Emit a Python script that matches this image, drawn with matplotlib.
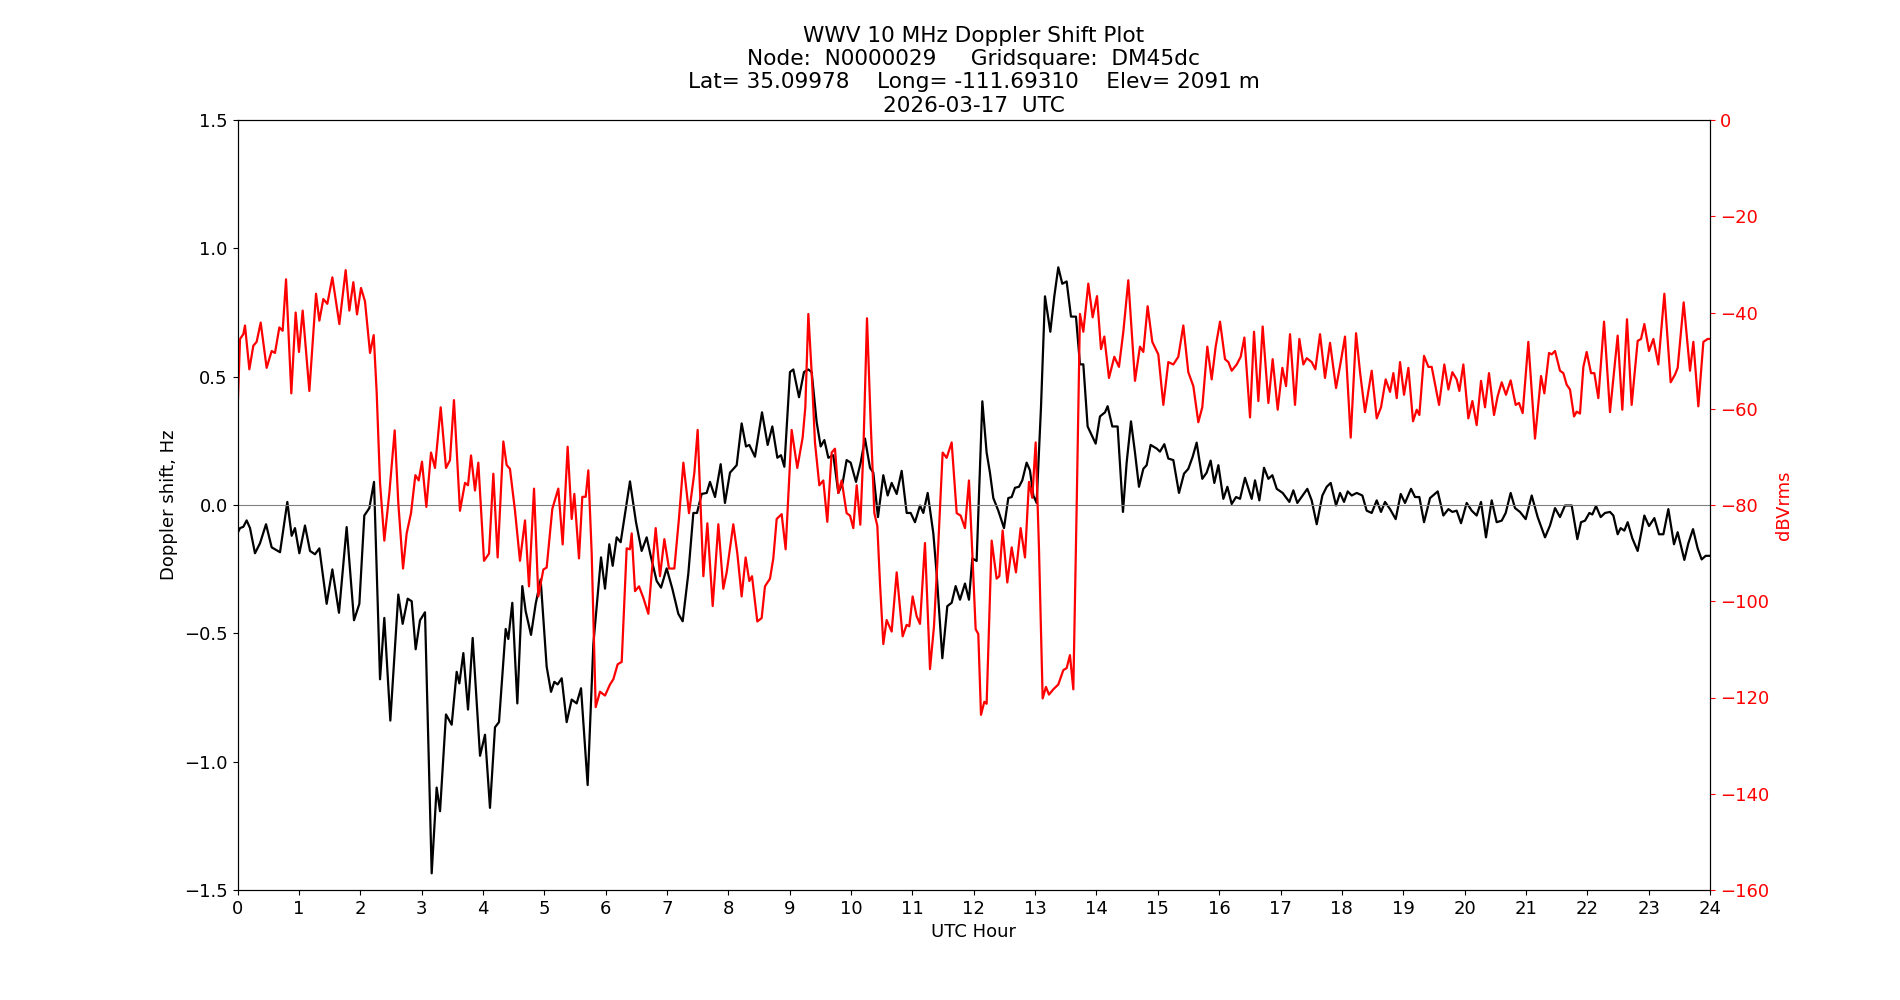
import matplotlib
matplotlib.use("Agg")
import matplotlib.pyplot as plt

plt.rcParams['font.size'] = 13

# Doppler shift (Hz) vs UTC hour
doppler_hours = [
    0.0, 0.041, 0.095, 0.149, 0.204, 0.285, 0.367, 0.465, 0.557, 0.693,
    0.812, 0.883, 0.937, 1.008, 1.100, 1.182, 1.263, 1.334, 1.453, 1.546,
    1.654, 1.779, 1.899, 1.986, 2.067, 2.149, 2.225, 2.323, 2.393, 2.491,
    2.621, 2.692, 2.774, 2.839, 2.904, 2.975, 3.056, 3.165, 3.246, 3.301,
    3.398, 3.491, 3.572, 3.616, 3.681, 3.757, 3.833, 3.953, 4.034, 4.115,
    4.197, 4.262, 4.371, 4.414, 4.479, 4.561, 4.642, 4.697, 4.784, 4.860,
    4.941, 5.039, 5.110, 5.164, 5.218, 5.284, 5.365, 5.447, 5.528, 5.599,
    5.707, 5.800, 5.925, 5.990, 6.060, 6.115, 6.180, 6.245, 6.397, 6.495,
    6.587, 6.669, 6.740, 6.832, 6.903, 6.995, 7.087, 7.185, 7.256, 7.348,
    7.430, 7.489, 7.565, 7.647, 7.701, 7.783, 7.875, 7.945, 8.027, 8.136,
    8.217, 8.288, 8.342, 8.434, 8.549, 8.641, 8.717, 8.799, 8.858, 8.913,
    9.005, 9.059, 9.152, 9.233, 9.304, 9.358, 9.440, 9.505, 9.565, 9.630,
    9.711, 9.793, 9.863, 9.928, 9.994, 10.081, 10.157, 10.227, 10.309, 10.363,
    10.439, 10.526, 10.597, 10.662, 10.744, 10.825, 10.907, 10.972, 11.042, 11.124,
    11.178, 11.249, 11.341, 11.395, 11.488, 11.569, 11.640, 11.705, 11.776, 11.857,
    11.922, 11.977, 12.047, 12.140, 12.210, 12.264, 12.319, 12.400, 12.493, 12.563,
    12.618, 12.672, 12.737, 12.791, 12.862, 12.916, 12.971, 13.025, 13.096, 13.161,
    13.248, 13.313, 13.378, 13.443, 13.514, 13.585, 13.666, 13.731, 13.786, 13.856,
    13.921, 13.987, 14.057, 14.139, 14.182, 14.258, 14.345, 14.432, 14.492, 14.563,
    14.628, 14.693, 14.764, 14.818, 14.883, 14.981, 15.035, 15.106, 15.171, 15.253,
    15.345, 15.427, 15.497, 15.568, 15.633, 15.725, 15.796, 15.861, 15.921, 15.987,
    16.068, 16.134, 16.204, 16.275, 16.340, 16.421, 16.530, 16.584, 16.655, 16.731,
    16.802, 16.867, 16.938, 17.035, 17.144, 17.209, 17.274, 17.361, 17.437, 17.508,
    17.590, 17.682, 17.753, 17.818, 17.905, 17.970, 18.035, 18.095, 18.160, 18.242,
    18.334, 18.404, 18.486, 18.568, 18.638, 18.703, 18.785, 18.877, 18.959, 19.029,
    19.127, 19.192, 19.263, 19.339, 19.437, 19.562, 19.654, 19.736, 19.801, 19.871,
    19.942, 20.034, 20.116, 20.197, 20.268, 20.349, 20.442, 20.523, 20.605, 20.670,
    20.751, 20.822, 20.903, 20.996, 21.094, 21.191, 21.311, 21.392, 21.474, 21.555,
    21.637, 21.746, 21.838, 21.898, 21.963, 22.034, 22.082, 22.142, 22.218, 22.289,
    22.370, 22.425, 22.495, 22.544, 22.604, 22.658, 22.734, 22.821, 22.886, 22.930,
    23.006, 23.093, 23.169, 23.240, 23.321, 23.413, 23.473, 23.582, 23.647, 23.723,
    23.799, 23.864, 23.930, 24.000,
]
doppler_hz = [
    -0.110, -0.090, -0.085, -0.060, -0.090, -0.188, -0.149, -0.075, -0.165, -0.184,
    0.012, -0.120, -0.090, -0.188, -0.080, -0.179, -0.192, -0.169, -0.385, -0.251,
    -0.420, -0.086, -0.449, -0.385, -0.041, -0.012, 0.090, -0.679, -0.440, -0.840,
    -0.349, -0.463, -0.365, -0.375, -0.562, -0.449, -0.418, -1.435, -1.101, -1.193,
    -0.816, -0.856, -0.650, -0.695, -0.577, -0.797, -0.518, -0.977, -0.895, -1.180,
    -0.866, -0.846, -0.483, -0.522, -0.381, -0.773, -0.316, -0.414, -0.506, -0.385,
    -0.290, -0.630, -0.728, -0.689, -0.699, -0.675, -0.846, -0.758, -0.773, -0.714,
    -1.091, -0.542, -0.204, -0.326, -0.153, -0.237, -0.126, -0.145, 0.092, -0.067,
    -0.179, -0.126, -0.204, -0.296, -0.322, -0.247, -0.326, -0.424, -0.453, -0.267,
    -0.031, -0.031, 0.043, 0.047, 0.090, 0.031, 0.159, 0.008, 0.126, 0.155,
    0.318, 0.228, 0.234, 0.188, 0.361, 0.234, 0.306, 0.184, 0.194, 0.149,
    0.518, 0.528, 0.420, 0.518, 0.528, 0.518, 0.322, 0.228, 0.253, 0.184,
    0.194, 0.047, 0.086, 0.175, 0.165, 0.090, 0.165, 0.259, 0.145, 0.126,
    -0.047, 0.116, 0.037, 0.086, 0.043, 0.133, -0.031, -0.031, -0.067, -0.002,
    -0.031, 0.047, -0.110, -0.267, -0.597, -0.394, -0.381, -0.316, -0.369, -0.306,
    -0.369, -0.208, -0.218, 0.404, 0.204, 0.126, 0.027, -0.022, -0.090, 0.027,
    0.031, 0.067, 0.071, 0.096, 0.165, 0.135, 0.037, 0.008, 0.381, 0.813,
    0.675, 0.813, 0.926, 0.862, 0.871, 0.734, 0.734, 0.548, 0.548, 0.306,
    0.273, 0.239, 0.345, 0.361, 0.385, 0.306, 0.306, -0.027, 0.165, 0.326,
    0.204, 0.071, 0.141, 0.155, 0.234, 0.220, 0.208, 0.237, 0.181, 0.175,
    0.047, 0.122, 0.141, 0.188, 0.243, 0.102, 0.126, 0.173, 0.086, 0.155,
    0.024, 0.071, 0.004, 0.031, 0.024, 0.106, 0.024, 0.096, 0.018, 0.145,
    0.102, 0.116, 0.063, 0.047, 0.012, 0.057, 0.008, 0.037, 0.063, 0.018,
    -0.075, 0.037, 0.071, 0.086, -0.002, 0.047, 0.012, 0.053, 0.037, 0.047,
    0.037, -0.022, -0.031, 0.018, -0.027, 0.012, -0.016, -0.055, 0.043, 0.008,
    0.063, 0.031, 0.031, -0.067, 0.027, 0.053, -0.041, -0.016, -0.027, -0.022,
    -0.071, 0.008, -0.022, -0.041, 0.012, -0.126, 0.018, -0.067, -0.061, -0.031,
    0.047, -0.012, -0.027, -0.055, 0.037, -0.047, -0.126, -0.080, -0.012, -0.047,
    -0.002, -0.002, -0.133, -0.067, -0.061, -0.031, -0.037, -0.004, -0.047, -0.031,
    -0.027, -0.041, -0.114, -0.090, -0.100, -0.067, -0.130, -0.179, -0.100, -0.041,
    -0.082, -0.051, -0.114, -0.114, -0.016, -0.153, -0.106, -0.214, -0.149, -0.094,
    -0.169, -0.212, -0.198, -0.198,
]

# Received signal level (dBVrms) vs UTC hour
power_hours = [
    0.0, 0.041, 0.095, 0.122, 0.193, 0.258, 0.312, 0.378, 0.475, 0.557,
    0.611, 0.682, 0.736, 0.791, 0.877, 0.948, 1.002, 1.062, 1.171, 1.280,
    1.334, 1.399, 1.464, 1.546, 1.660, 1.763, 1.823, 1.888, 1.948, 2.013,
    2.078, 2.160, 2.220, 2.268, 2.323, 2.393, 2.475, 2.562, 2.621, 2.698,
    2.757, 2.828, 2.899, 2.953, 3.007, 3.078, 3.154, 3.219, 3.312, 3.398,
    3.463, 3.528, 3.626, 3.708, 3.757, 3.806, 3.871, 3.925, 4.018, 4.099,
    4.170, 4.240, 4.333, 4.387, 4.441, 4.523, 4.604, 4.686, 4.751, 4.833,
    4.903, 4.985, 5.039, 5.131, 5.229, 5.300, 5.381, 5.447, 5.490, 5.566,
    5.620, 5.675, 5.718, 5.773, 5.838, 5.908, 5.990, 6.071, 6.126, 6.196,
    6.262, 6.343, 6.397, 6.425, 6.479, 6.544, 6.615, 6.696, 6.751, 6.816,
    6.886, 6.957, 7.033, 7.120, 7.196, 7.267, 7.359, 7.446, 7.500, 7.593,
    7.658, 7.745, 7.837, 7.918, 7.973, 8.081, 8.147, 8.217, 8.282, 8.342,
    8.386, 8.472, 8.543, 8.597, 8.679, 8.733, 8.788, 8.869, 8.934, 9.032,
    9.124, 9.211, 9.255, 9.304, 9.358, 9.412, 9.483, 9.548, 9.613, 9.684,
    9.738, 9.793, 9.847, 9.928, 9.983, 10.037, 10.092, 10.151, 10.200, 10.260,
    10.320, 10.380, 10.428, 10.472, 10.526, 10.580, 10.662, 10.744, 10.841, 10.906,
    10.950, 11.004, 11.069, 11.124, 11.205, 11.287, 11.352, 11.423, 11.493, 11.558,
    11.640, 11.722, 11.786, 11.857, 11.922, 11.977, 12.031, 12.074, 12.118, 12.172,
    12.210, 12.292, 12.373, 12.417, 12.471, 12.547, 12.618, 12.688, 12.764, 12.835,
    12.900, 12.954, 13.009, 13.063, 13.123, 13.177, 13.226, 13.297, 13.378, 13.460,
    13.514, 13.568, 13.623, 13.677, 13.731, 13.786, 13.867, 13.938, 14.009, 14.074,
    14.128, 14.204, 14.291, 14.367, 14.438, 14.519, 14.628, 14.709, 14.764, 14.834,
    14.910, 15.008, 15.090, 15.171, 15.253, 15.334, 15.416, 15.497, 15.579, 15.660,
    15.725, 15.807, 15.878, 15.943, 16.014, 16.095, 16.150, 16.204, 16.286, 16.351,
    16.411, 16.503, 16.568, 16.639, 16.709, 16.802, 16.872, 16.954, 17.030, 17.090,
    17.155, 17.236, 17.307, 17.372, 17.427, 17.508, 17.568, 17.644, 17.725, 17.807,
    17.905, 17.981, 18.051, 18.144, 18.231, 18.296, 18.377, 18.486, 18.568, 18.638,
    18.714, 18.785, 18.839, 18.894, 18.948, 19.013, 19.084, 19.160, 19.220, 19.263,
    19.339, 19.410, 19.464, 19.584, 19.670, 19.736, 19.801, 19.871, 19.915, 19.980,
    20.061, 20.127, 20.197, 20.268, 20.333, 20.398, 20.480, 20.539, 20.605, 20.675,
    20.751, 20.833, 20.887, 20.947, 21.039, 21.148, 21.246, 21.300, 21.376, 21.420,
    21.474, 21.555, 21.610, 21.664, 21.718, 21.784, 21.827, 21.881, 21.936, 21.990,
    22.061, 22.115, 22.180, 22.273, 22.370, 22.495, 22.571, 22.647, 22.723, 22.821,
    22.876, 22.930, 23.006, 23.077, 23.158, 23.256, 23.359, 23.430, 23.473, 23.571,
    23.674, 23.729, 23.810, 23.892, 23.962, 24.000,
]
power_db = [
    -60.9, -45.5, -44.5, -42.7, -51.8, -46.9, -46.1, -42.1, -51.5, -48.0,
    -48.4, -43.1, -43.8, -33.1, -56.8, -40.0, -48.2, -39.6, -56.3, -36.1,
    -41.7, -37.2, -38.2, -32.7, -42.4, -31.2, -39.6, -33.7, -40.4, -34.9,
    -37.7, -48.4, -44.7, -56.5, -75.4, -87.4, -77.5, -64.5, -79.6, -93.2,
    -85.9, -81.7, -73.8, -74.9, -71.0, -80.4, -69.1, -72.3, -59.7, -72.3,
    -70.7, -58.2, -81.2, -75.4, -75.9, -69.7, -77.0, -71.2, -91.6, -90.1,
    -73.5, -90.9, -66.8, -71.7, -72.5, -81.2, -91.6, -83.2, -96.9, -76.6,
    -99.0, -93.4, -93.0, -80.8, -76.6, -88.2, -67.9, -82.9, -77.7, -91.1,
    -78.3, -78.3, -72.8, -90.1, -122.0, -118.8, -119.6, -117.3, -116.2, -113.1,
    -112.6, -89.0, -89.2, -85.9, -97.9, -96.9, -99.3, -102.6, -94.2, -84.8,
    -94.8, -87.1, -93.2, -93.2, -82.7, -71.2, -81.7, -73.3, -64.4, -94.8,
    -83.8, -101.0, -84.0, -97.4, -94.0, -84.0, -90.1, -99.0, -90.9, -95.8,
    -94.8, -104.2, -103.5, -96.9, -95.3, -91.1, -82.9, -81.9, -89.2, -64.4,
    -72.3, -66.0, -59.7, -40.3, -52.4, -67.0, -75.9, -74.9, -83.5, -69.1,
    -68.3, -77.5, -74.9, -81.7, -82.2, -84.8, -75.9, -84.1, -69.1, -41.2,
    -62.8, -81.7, -84.3, -96.3, -108.9, -103.9, -106.3, -94.0, -107.3, -104.9,
    -105.2, -99.0, -103.1, -104.7, -87.9, -114.1, -105.2, -87.9, -69.1, -70.2,
    -67.0, -81.7, -82.2, -84.8, -74.9, -90.1, -105.8, -106.8, -123.6, -120.9,
    -121.3, -87.4, -95.3, -94.8, -85.3, -96.1, -88.8, -94.0, -84.8, -90.9,
    -75.2, -78.5, -67.0, -89.0, -120.2, -117.8, -119.4, -118.3, -117.3, -114.3,
    -113.9, -111.2, -118.3, -80.6, -40.3, -44.0, -34.0, -41.0, -36.6, -47.6,
    -45.0, -53.6, -49.2, -51.3, -44.0, -33.3, -54.2, -47.1, -48.2, -38.7,
    -46.1, -48.7, -59.2, -50.3, -50.8, -49.2, -42.7, -52.4, -55.3, -62.8,
    -59.7, -47.1, -53.9, -47.1, -41.9, -49.7, -50.3, -52.1, -50.8, -49.2,
    -45.2, -61.8, -44.0, -58.4, -42.9, -58.8, -49.7, -60.2, -51.5, -55.3,
    -44.5, -59.2, -45.5, -50.8, -49.5, -50.3, -51.8, -44.5, -53.6, -46.3,
    -55.7, -50.3, -45.0, -66.0, -44.3, -52.4, -60.7, -52.1, -62.0, -59.7,
    -53.9, -56.5, -52.6, -57.8, -50.3, -57.1, -51.5, -62.6, -60.2, -61.3,
    -49.0, -51.3, -51.3, -59.2, -50.8, -56.0, -52.4, -53.9, -56.3, -50.8,
    -62.0, -58.4, -63.4, -54.2, -59.7, -52.6, -61.3, -57.4, -54.5, -57.1,
    -54.1, -59.2, -58.8, -60.9, -46.1, -66.2, -53.2, -56.8, -48.4, -48.7,
    -48.0, -52.1, -52.6, -55.0, -56.0, -61.6, -60.6, -61.0, -51.3, -48.2,
    -52.6, -52.6, -57.8, -41.9, -60.7, -44.8, -60.2, -41.4, -59.2, -45.9,
    -45.5, -42.4, -48.0, -45.5, -50.8, -36.1, -54.5, -52.9, -51.5, -37.9,
    -52.1, -46.1, -59.5, -46.1, -45.5, -45.5,
]

title_text = ("WWV 10 MHz Doppler Shift Plot\n"
              "Node:  N0000029     Gridsquare:  DM45dc\n"
              "Lat= 35.09978    Long= -111.69310    Elev= 2091 m\n"
              "2026-03-17  UTC")

fig, ax = plt.subplots(figsize=(19, 10), dpi=100)

# Doppler shift on the left axis
ax.plot(doppler_hours, doppler_hz, color='black', linewidth=1.6,
        solid_joinstyle='round', solid_capstyle='round')
ax.axhline(0, color='grey', linewidth=0.8)
ax.set_xlim(0, 24)
ax.set_ylim(-1.5, 1.5)
ax.set_xticks(range(0, 25))
ax.set_xlabel("UTC Hour")
ax.set_ylabel("Doppler shift, Hz")
ax.set_title(title_text)

# Signal level on the right axis
ax2 = ax.twinx()
ax2.plot(power_hours, power_db, color='red', linewidth=1.6,
         solid_joinstyle='round', solid_capstyle='round')
ax2.set_ylim(-160, 0)
ax2.set_ylabel("dBVrms", color='red')
ax2.tick_params(axis='y', colors='red')
ax2.spines['right'].set_color('black')

plt.savefig("out.png", dpi=100)
